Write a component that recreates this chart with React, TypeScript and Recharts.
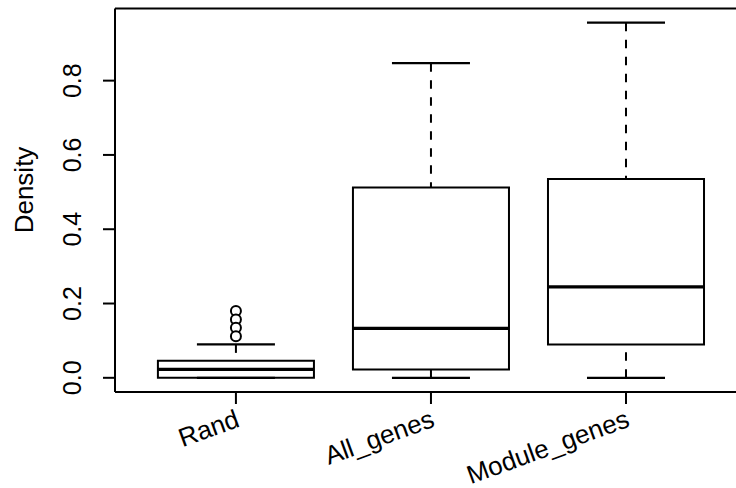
import React from 'react';
import { ComposedChart, XAxis, YAxis, Scatter, ReferenceArea, ReferenceLine, Label } from 'recharts';

const categories = ['Rand', 'All_genes', 'Module_genes'];
const positions = [1, 2, 3];
const lowerWhisker = [0, 0, 0];
const q1 = [0, 0.0226, 0.09];
const median = [0.0226, 0.133, 0.245];
const q3 = [0.046, 0.512, 0.535];
const upperWhisker = [0.09, 0.847, 0.956];
const outlierGroup = [1, 1, 1, 1];
const outlierValues = [0.18, 0.157, 0.135, 0.112];
const yTicks = [0, 0.2, 0.4, 0.6, 0.8];
const yTickLabels = ['0.0', '0.2', '0.4', '0.6', '0.8'];

const Y_DOMAIN: [number, number] = [-0.0382, 0.9942];
const X_DOMAIN: [number, number] = [0.38, 3.564];

const FONT = '"Liberation Sans", Arial, Helvetica, sans-serif';
const BOX_HALF = 0.4;
const CAP_HALF = 0.2;

const outliers = outlierValues.map((v, i) => ({ x: outlierGroup[i], y: v }));

const YTick = (props: any) => {
  const { x, y, payload } = props;
  const idx = yTicks.indexOf(payload.value);
  const label = idx >= 0 ? yTickLabels[idx] : String(payload.value);
  return (
    <text x={x} y={y} transform={`rotate(-90, ${x}, ${y})`} textAnchor="middle"
      fontSize={25} fontFamily={FONT} fill="#000">{label}</text>
  );
};

const XTick = (props: any) => {
  const { x, y, payload } = props;
  const idx = positions.indexOf(payload.value);
  const label = idx >= 0 ? categories[idx] : '';
  const ax = x + 5;
  return (
    <text x={ax} y={y} transform={`rotate(-20, ${ax}, ${y})`} textAnchor="end"
      fontSize={26} fontFamily={FONT} fill="#000">{label}</text>
  );
};

const Outlier = (props: any) => (
  <circle cx={props.cx} cy={props.cy} r={5} fill="#fff" stroke="#000" strokeWidth={2} />
);

export default function App() {
  return (
    <div style={{ position: 'absolute', left: 0, top: 0, width: 736, height: 488, background: '#fff', overflow: 'hidden' }}>
      <ComposedChart width={736} height={488} margin={{ top: 8.5, right: 0, bottom: 0, left: 0 }}>
        <XAxis type="number" dataKey="x" domain={X_DOMAIN} allowDataOverflow
          ticks={positions} interval={0} tickSize={12} tickMargin={22} height={96}
          axisLine={{ stroke: '#000', strokeWidth: 2 }} tickLine={{ stroke: '#000', strokeWidth: 2 }}
          tick={<XTick />} />
        <YAxis type="number" dataKey="y" domain={Y_DOMAIN} allowDataOverflow
          ticks={yTicks} interval={0} tickSize={12} tickMargin={22} width={115}
          axisLine={{ stroke: '#000', strokeWidth: 2 }} tickLine={{ stroke: '#000', strokeWidth: 2 }}
          tick={<YTick />}>
          <Label content={() => (
            <text x={33} y={190} transform="rotate(-90, 33, 190)" textAnchor="middle"
              fontSize={26} fontFamily={FONT} fill="#000">Density</text>
          )} />
        </YAxis>

        <ReferenceLine y={Y_DOMAIN[1]} stroke="#000" strokeWidth={2} />

        {positions.map((p, i) => (
          <ReferenceLine key={`uw${i}`} segment={[{ x: p, y: upperWhisker[i] }, { x: p, y: q3[i] }]}
            stroke="#000" strokeWidth={2} strokeDasharray="8.5 8.5" />
        ))}
        {positions.map((p, i) => (
          <ReferenceLine key={`lw${i}`} segment={[{ x: p, y: lowerWhisker[i] }, { x: p, y: q1[i] }]}
            stroke="#000" strokeWidth={2} strokeDasharray="8.5 8.5" />
        ))}
        {positions.map((p, i) => (
          <ReferenceLine key={`uc${i}`} segment={[{ x: p - CAP_HALF, y: upperWhisker[i] }, { x: p + CAP_HALF, y: upperWhisker[i] }]}
            stroke="#000" strokeWidth={2.2} />
        ))}
        {positions.map((p, i) => (
          <ReferenceLine key={`lc${i}`} segment={[{ x: p - CAP_HALF, y: lowerWhisker[i] }, { x: p + CAP_HALF, y: lowerWhisker[i] }]}
            stroke="#000" strokeWidth={2.2} />
        ))}
        {positions.map((p, i) => (
          <ReferenceArea key={`box${i}`} x1={p - BOX_HALF} x2={p + BOX_HALF} y1={q1[i]} y2={q3[i]}
            fill="#fff" fillOpacity={1} stroke="#000" strokeWidth={2} />
        ))}
        {positions.map((p, i) => (
          <ReferenceLine key={`med${i}`} segment={[{ x: p - BOX_HALF, y: median[i] }, { x: p + BOX_HALF, y: median[i] }]}
            stroke="#000" strokeWidth={3.3} />
        ))}
        <Scatter data={outliers} shape={<Outlier />} isAnimationActive={false} />
      </ComposedChart>
    </div>
  );
}
